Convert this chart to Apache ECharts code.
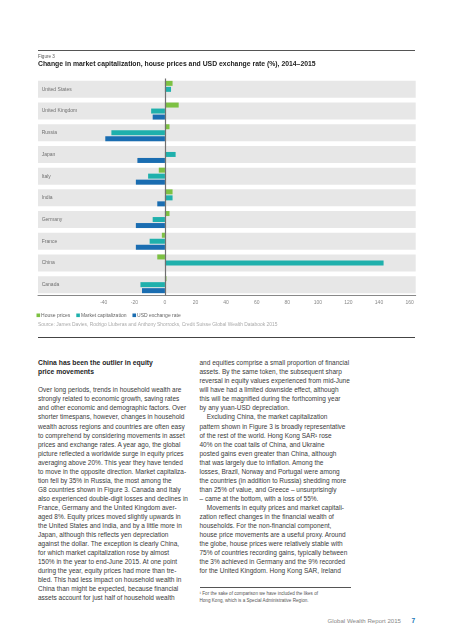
<!DOCTYPE html>
<html>
<head>
<meta charset="utf-8">
<script src="https://cdn.jsdelivr.net/npm/echarts@6/dist/echarts.min.js"></script>
<style>
  html, body { margin: 0; padding: 0; background: #fff; }
  body { width: 453px; height: 640px; position: relative; overflow: hidden; font-family: 'Liberation Sans', Arial, sans-serif; }
  #chart { position: absolute; left: 0; top: 0; width: 453px; height: 345px; }
  .rule { position: absolute; background: #555; }
  .col { position: absolute; white-space: pre; font-size: 6.5px; line-height: 9.05px; color: #3a3a3a; }
  .col b { color: #1e1e1e; font-size: 6.8px; }
  .fn { position: absolute; white-space: pre; font-size: 4.6px; line-height: 7.4px; color: #555; }
  .footer { position: absolute; white-space: pre; font-size: 6.1px; color: #888; }
  .pnum { position: absolute; font-size: 6.6px; font-weight: bold; color: #1a78b8; }
</style>
</head>
<body>
<div id="chart"></div>
<div class="rule" style="left:38px;top:49.5px;width:377px;height:1.2px;"></div>
<div class="rule" style="left:38px;top:336.8px;width:377px;height:1.2px;background:#444;"></div>

<div class="col" style="left:38px;top:358.2px;"><b>China has been the outlier in equity
price movements</b>

Over long periods, trends in household wealth are
strongly related to economic growth, saving rates
and other economic and demographic factors. Over
shorter timespans, however, changes in household
wealth across regions and countries are often easy
to comprehend by considering movements in asset
prices and exchange rates. A year ago, the global
picture reflected a worldwide surge in equity prices
averaging above 20%. This year they have tended
to move in the opposite direction. Market capitaliza-
tion fell by 35% in Russia, the most among the
G8 countries shown in Figure 3. Canada and Italy
also experienced double-digit losses and declines in
France, Germany and the United Kingdom aver-
aged 8%. Equity prices moved slightly upwards in
the United States and India, and by a little more in
Japan, although this reflects yen depreciation
against the dollar. The exception is clearly China,
for which market capitalization rose by almost
150% in the year to end-June 2015. At one point
during the year, equity prices had more than tre-
bled. This had less impact on household wealth in
China than might be expected, because financial
assets account for just half of household wealth</div>

<div class="col" style="left:199.5px;top:358.2px;">and equities comprise a small proportion of financial
assets. By the same token, the subsequent sharp
reversal in equity values experienced from mid-June
will have had a limited downside effect, although
this will be magnified during the forthcoming year
by any yuan-USD depreciation.
    Excluding China, the market capitalization
pattern shown in Figure 3 is broadly representative
of the rest of the world. Hong Kong SAR¹ rose
40% on the coat tails of China, and Ukraine
posted gains even greater than China, although
that was largely due to inflation. Among the
losses, Brazil, Norway and Portugal were among
the countries (in addition to Russia) shedding more
than 25% of value, and Greece – unsurprisingly
– came at the bottom, with a loss of 55%.
    Movements in equity prices and market capitali-
zation reflect changes in the financial wealth of
households. For the non-financial component,
house price movements are a useful proxy. Around
the globe, house prices were relatively stable with
75% of countries recording gains, typically between
the 3% achieved in Germany and the 9% recorded
for the United Kingdom. Hong Kong SAR, Ireland</div>

<div class="rule" style="left:199.5px;top:587.2px;width:151.5px;height:1px;"></div>
<div class="fn" style="left:199.5px;top:589.6px;">¹ For the sake of comparison we have included the likes of
Hong Kong, which is a Special Administrative Region.</div>

<div class="footer" style="right:52px;top:617px;">Global Wealth Report 2015</div>
<div class="pnum" style="left:411.5px;top:616.5px;">7</div>

<script>
// ---- data ----
const categories = ['United States', 'United Kingdom', 'Russia', 'Japan', 'Italy', 'India', 'Germany', 'France', 'China', 'Canada'];
const housePrices = [5, 9, 3, 0, -4, 5, 3, -2, -5, 1];
const marketCap = [4, -9, -35, 7, -11, 5, -8, -10, 143, -16];
const usdRate = [0, -8, -39, -18, -19, -5, -19, -19, 0, -15];
const tickValues = [-40, -20, 0, 20, 40, 60, 80, 100, 120, 140, 160];
const seriesNames = ['House prices', 'Market capitalization', 'USD exchange rate'];
const figureLabel = 'Figure 3';
const titleText = 'Change in market capitalization, house prices and USD exchange rate (%), 2014\u20132015';
const sourceText = 'Source: James Davies, Rodrigo Lluberas and Anthony Shorrocks, Credit Suisse Global Wealth Databook 2015';

const FONT = "'Liberation Sans', Arial, sans-serif";
const colors = ['#7dc143', '#1fb0ac', '#1a6db1'];

const chart = echarts.init(document.getElementById('chart'), null, { renderer: 'canvas' });
const bgData = categories.map(() => 1);

chart.setOption({
  animation: false,
  title: [
    { text: figureLabel, left: 38, top: 54.2, padding: 0,
      textStyle: { fontFamily: FONT, fontSize: 4.6, lineHeight: 5, fontWeight: 'normal', color: '#555' } },
    { text: titleText, left: 38, top: 60.5, padding: 0,
      textStyle: { fontFamily: FONT, fontSize: 6.85, lineHeight: 7, fontWeight: 'bold', color: '#222' } },
    { text: sourceText, left: 38, top: 322.5, padding: 0,
      textStyle: { fontFamily: FONT, fontSize: 4.9, lineHeight: 5, fontWeight: 'normal', color: '#aaa' } }
  ],
  legend: {
    left: 36.5, top: 312.8, padding: 0, itemWidth: 3.6, itemHeight: 3.6, itemGap: 6,
    icon: 'rect', selectedMode: false,
    data: seriesNames,
    textStyle: { fontFamily: FONT, fontSize: 5, color: '#666', padding: [0, 0, 0, -4] }
  },
  grid: { left: 38, right: 37.3, top: 78.5, height: 217, containLabel: false },
  xAxis: [
    {
      type: 'value', min: -83, max: 164, position: 'bottom',
      splitLine: { show: false },
      axisLine: { show: true, onZero: false, lineStyle: { color: '#888', width: 1 } },
      axisTick: { show: false },
      axisLabel: { customValues: tickValues, fontFamily: FONT, fontSize: 5, color: '#888', margin: 4.5 }
    },
    { type: 'value', min: 0, max: 1, show: false }
  ],
  yAxis: [
    {
      type: 'category', data: categories, inverse: true,
      axisLine: { show: false }, axisTick: { show: false }, splitLine: { show: false },
      axisLabel: { inside: true, margin: 3.7, fontFamily: FONT, fontSize: 5, color: '#707070' },
      z: 5
    },
    { type: 'category', data: categories, inverse: true, show: false }
  ],
  series: [
    {
      name: 'bands', type: 'bar', xAxisIndex: 1, yAxisIndex: 1, data: bgData,
      barWidth: 17, itemStyle: { color: '#e7e7e7' }, silent: true, z: 1
    },
    {
      name: seriesNames[0], type: 'bar', data: housePrices, barWidth: 5, barGap: '20%',
      itemStyle: { color: colors[0] }, z: 3
    },
    {
      name: seriesNames[1], type: 'bar', data: marketCap, barWidth: 5, barGap: '20%',
      itemStyle: { color: colors[1] }, z: 3,
      markLine: {
        silent: true, symbol: ['none', 'none'], label: { show: false },
        lineStyle: { color: '#707070', width: 1.2, type: 'solid' },
        data: [{ xAxis: 0 }], z: 6
      }
    },
    {
      name: seriesNames[2], type: 'bar', data: usdRate, barWidth: 5, barGap: '20%',
      itemStyle: { color: colors[2] }, z: 3
    }
  ]
});
</script>
</body>
</html>
